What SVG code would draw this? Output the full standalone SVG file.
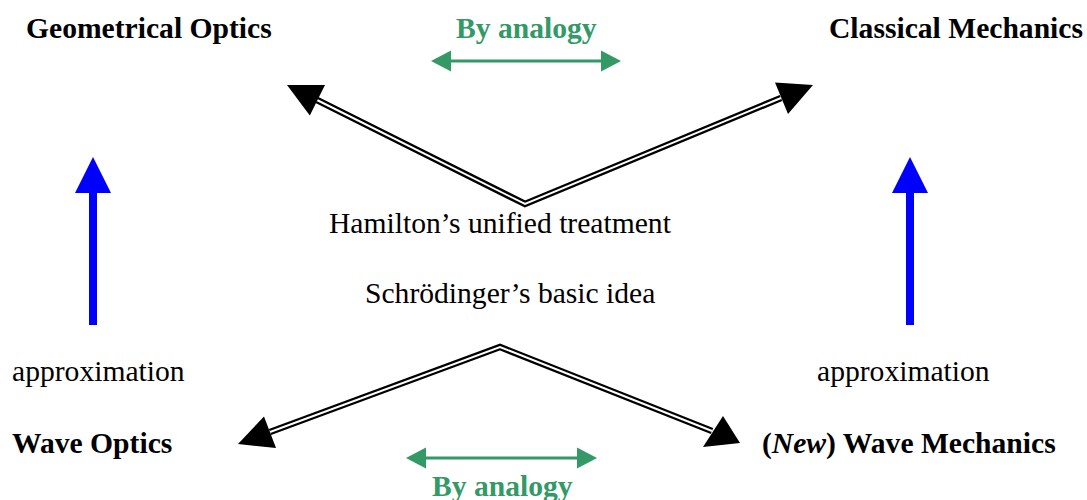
<svg xmlns="http://www.w3.org/2000/svg" width="1087" height="500" viewBox="0 0 1087 500">
<style>
text{font-family:"Liberation Serif","Times New Roman",serif;font-size:29.6px;fill:#000}
.b{font-weight:bold}
.g{fill:#339966;font-weight:bold}
.outer{fill:none;stroke:#000;stroke-width:6.5;stroke-linejoin:miter}
.inner{fill:none;stroke:#fff;stroke-width:2;stroke-linejoin:miter}
.head{fill:#000}
.gl{stroke:#339966;stroke-width:3}
.gh{fill:#339966}
.blue{fill:#0000ff}
</style>
<rect width="1087" height="500" fill="#fff"/>
<g id="geometrical-optics"><text class="b" x="26" y="38">Geometrical Optics</text></g>
<g id="classical-mechanics"><text class="b" x="829" y="38">Classical Mechanics</text></g>
<g id="wave-optics"><text class="b" x="12" y="453">Wave Optics</text></g>
<g id="wave-mechanics"><text x="762" y="453"><tspan font-weight="bold">(</tspan><tspan font-style="italic" font-weight="bold">New</tspan><tspan font-weight="bold">) Wave Mechanics</tspan></text></g>
<g id="hamilton"><text x="329" y="233">Hamilton’s unified treatment</text></g>
<g id="schrodinger"><text x="365" y="303">Schrödinger’s basic idea</text></g>
<g id="approx-left"><text x="12" y="381">approximation</text></g>
<g id="approx-right"><text x="817" y="381">approximation</text></g>
<g id="analogy-top"><text class="g" x="456" y="38">By analogy</text></g>
<g id="analogy-bottom"><text class="g" x="432" y="496">By analogy</text></g>
<g id="connectors">
<polyline class="outer" points="317,100 525,204 781,98"/>
<polyline class="inner" points="317,100 525,204 781,98"/>
<polygon class="head" points="287,85 325,85 309.8,115.4"/>
<polygon class="head" points="813,85 775,82.5 788,114"/>
<polyline class="outer" points="270,432 500,347 712,431"/>
<polyline class="inner" points="270,432 500,347 712,431"/>
<polygon class="head" points="238,444 264,416.5 276,448"/>
<polygon class="head" points="740,443 723,416 703,447"/>
<line class="gl" x1="449" y1="61" x2="603" y2="61"/>
<polygon class="gh" points="431,61 451,50.5 451,71.5"/>
<polygon class="gh" points="621,61 601,50.5 601,71.5"/>
<line class="gl" x1="424" y1="458" x2="579" y2="458"/>
<polygon class="gh" points="406,458 426,447.5 426,468.5"/>
<polygon class="gh" points="597,458 577,447.5 577,468.5"/>
<rect class="blue" x="89" y="192" width="8" height="133"/>
<polygon class="blue" points="93,157 75,193 111,193"/>
<rect class="blue" x="906" y="192" width="8" height="133"/>
<polygon class="blue" points="910,157 892,193 928,193"/>
</g>
</svg>
